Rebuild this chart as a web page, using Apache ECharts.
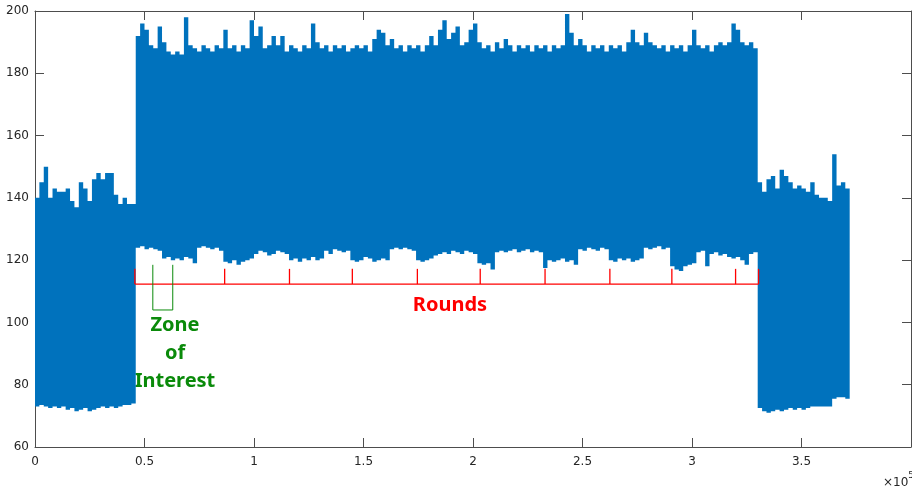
<!DOCTYPE html>
<html>
<head>
<meta charset="utf-8">
<script src="https://cdn.jsdelivr.net/npm/echarts@6/dist/echarts.min.js"></script>
<style>
  html, body { margin: 0; padding: 0; background: #fff; }
  #main { width: 912px; height: 486px; }
</style>
</head>
<body>
<div id="main"></div>
<script>
// trace envelope, one column every 2000 samples (max / min)
var step = 2000;

var upperIdle1 = [140,145,150,140,143,142,142,143,139,137,145,143,139,146,148,146,148,148,141,138,140,138,138];
var lowerIdle1 = [73,73.5,73,72.5,73,72.5,73,72,72.5,71.5,72,72.5,71.5,72,72.5,73,72.5,73,72.5,73,73.5,73.5,74];

var upperRun = [
  192,196,194,189,188,195,190,187,186,187,
  186,198,189,188,187,189,188,187,189,188,
  194,188,189,187,189,188,197,192,195,188,
  189,192,189,192,187,189,188,187,189,188,
  196,190,188,189,187,189,188,189,187,188,
  189,188,189,187,191,194,193,189,191,188,
  189,187,189,188,189,187,189,192,189,194,
  197,191,193,195,189,190,194,196,190,188,
  189,187,190,188,191,189,187,189,188,189,
  187,189,188,189,187,189,188,189,199,193,
  189,191,189,187,189,188,189,187,189,188,
  189,187,190,194,190,189,193,190,189,188,
  189,187,189,188,189,187,189,194,189,188,
  189,187,189,190,189,190,196,194,190,189,
  190,188
];
var lowerRun = [
  124,124.5,123.5,124,123.5,123,120.5,121,120,120.5,
  120,121,120.5,119,124,124.5,124,123.5,124,123,
  119.5,119,120,118.5,119.5,120,120.5,122,123,122.5,
  121.5,122,123,122.5,122,120,120.5,119.5,120.5,120,
  121,120,120.5,123,122,123.5,123,122.5,123,120,
  119.5,120,121,120.5,119.5,120,120.5,120,123.5,124,
  123.5,124,123.5,123,120,119.5,120,120.5,121.5,122,
  122.5,122,123,122.5,122,123,122.5,122,119,118.5,
  119,117,122.5,123,122.5,123,123.5,122.5,123,123.5,
  122.5,123,122.5,117.5,120,119.5,120,120.5,119.5,120,
  118.5,123.5,123,124,123.5,123,124,123.5,120,119.5,
  120.5,120,120.5,119.5,120,120.5,124,123.5,124,124.5,
  123.5,124,118,117,116.5,118,118.5,119,122.5,123,
  118,122,122.5,121.5,122,121,120.5,121,120,118.5,
  122,122.5
];

var upperIdle2 = [145,142,146,147,143,149,147,145,143,144,143,142,145,141,140,140,139,154,144,145,143];
var lowerIdle2 = [72.5,71.5,71,71.5,72,71.5,72,72.5,72,72.5,72,72.5,73,73,73,73,73,75.5,76,76,75.5];

var upper = upperIdle1.concat(upperRun, upperIdle2);
var lower = lowerIdle1.concat(lowerRun, lowerIdle2);

// round boundaries (samples) and annotation levels
var roundEdges = [45600, 86600, 116200, 144900, 174600, 203300, 232900, 262500, 290800, 319900, 330400];
var roundsLevel = 112.3;
var roundTickTop = 117.2;
var zoneStart = 53800, zoneEnd = 62900;
var zoneTop = 118.5, zoneBottom = 104;

var xTicks = [0, 50000, 100000, 150000, 200000, 250000, 300000, 350000, 400000];
var yTicks = [60, 80, 100, 120, 140, 160, 180, 200];

var trace = upper.map(function (u, i) { return [i * step, lower[i], u]; });

var myChart = echarts.init(document.getElementById('main'));

var axisColor = '#4d4d4d';
var labelStyle = { color: '#262626', fontSize: 12, fontFamily: 'DejaVu Sans' };

function xAxisDef(pos, labels) {
    return {
        type: 'value', position: pos,
        min: xTicks[0], max: xTicks[xTicks.length - 1], interval: 50000,
        axisLine: { show: true, onZero: false, lineStyle: { color: axisColor, width: 1 } },
        axisTick: { show: true, inside: true, length: 9, lineStyle: { color: axisColor } },
        axisLabel: { show: labels, margin: 9, color: labelStyle.color, fontSize: labelStyle.fontSize,
            fontFamily: labelStyle.fontFamily, hideOverlap: false,
            // last label sits off the page edge in the original
            formatter: function (v) { return v === xTicks[xTicks.length - 1] ? '' : String(v / 100000); } },
        splitLine: { show: false }
    };
}
function yAxisDef(pos, labels) {
    return {
        type: 'value', position: pos,
        min: yTicks[0], max: yTicks[yTicks.length - 1], interval: 20,
        axisLine: { show: true, onZero: false, lineStyle: { color: axisColor, width: 1 } },
        axisTick: { show: true, inside: true, length: 9, lineStyle: { color: axisColor } },
        axisLabel: { show: labels, margin: 6, color: labelStyle.color, fontSize: labelStyle.fontSize,
            fontFamily: labelStyle.fontFamily },
        splitLine: { show: false }
    };
}

var option = {
    animation: false,
    grid: { left: 35, right: 1, top: 11, bottom: 39, containLabel: false, outerBoundsMode: 'none' },
    xAxis: [xAxisDef('bottom', true), xAxisDef('top', false)],
    yAxis: [yAxisDef('left', true), yAxisDef('right', false)],
    series: [
        {
            // the whole trace as one filled band: max per column on top, min per column below
            name: 'trace',
            type: 'custom',
            data: [[0]],
            renderItem: function (params, api) {
                var pts = [];
                trace.forEach(function (d) {
                    pts.push(api.coord([d[0], d[2]]));
                    pts.push(api.coord([d[0] + step, d[2]]));
                });
                for (var i = trace.length - 1; i >= 0; i--) {
                    pts.push(api.coord([trace[i][0] + step, trace[i][1]]));
                    pts.push(api.coord([trace[i][0], trace[i][1]]));
                }
                return {
                    type: 'polygon',
                    shape: { points: pts },
                    style: { fill: '#0072BD' }
                };
            }
        },
        {
            name: 'rounds',
            type: 'line',
            data: [[roundEdges[0], roundsLevel], [roundEdges[roundEdges.length - 1], roundsLevel]],
            symbol: 'none',
            lineStyle: { color: '#ff0000', width: 1.3 },
            z: 5
        },
        {
            name: 'roundTicks',
            type: 'custom',
            data: roundEdges,
            renderItem: function (params, api) {
                var p1 = api.coord([api.value(0), roundsLevel]);
                var p2 = api.coord([api.value(0), roundTickTop]);
                return {
                    type: 'line',
                    shape: { x1: p1[0], y1: p1[1], x2: p2[0], y2: p2[1] },
                    style: { stroke: '#ff0000', lineWidth: 1.3 }
                };
            },
            z: 5
        },
        {
            name: 'zone',
            type: 'line',
            data: [[zoneStart, zoneTop], [zoneStart, zoneBottom], [zoneEnd, zoneBottom], [zoneEnd, zoneTop]],
            symbol: 'none',
            lineStyle: { color: '#0a8a0a', width: 1 },
            z: 5
        }
    ],
    graphic: [
        {
            type: 'text', x: 450, y: 305,
            style: { text: 'Rounds', fill: '#ff0000', font: 'bold 20px "Noto Sans"',
                align: 'center', verticalAlign: 'middle' }
        },
        {
            type: 'text', x: 175, y: 353,
            style: { text: 'Zone\nof\nInterest', fill: '#0a8a0a', font: 'bold 20px "Noto Sans"',
                lineHeight: 28, align: 'center', verticalAlign: 'middle' }
        },
        {
            type: 'text', x: 883, y: 471,
            style: {
                text: '{a|×10}{b|5}',
                rich: {
                    a: { fontSize: 12, fontFamily: 'DejaVu Sans', fill: '#262626', padding: [6, 0, 0, 0] },
                    b: { fontSize: 9, fontFamily: 'DejaVu Sans', fill: '#262626', verticalAlign: 'top' }
                }
            }
        }
    ]
};

myChart.setOption(option);
</script>
</body>
</html>
